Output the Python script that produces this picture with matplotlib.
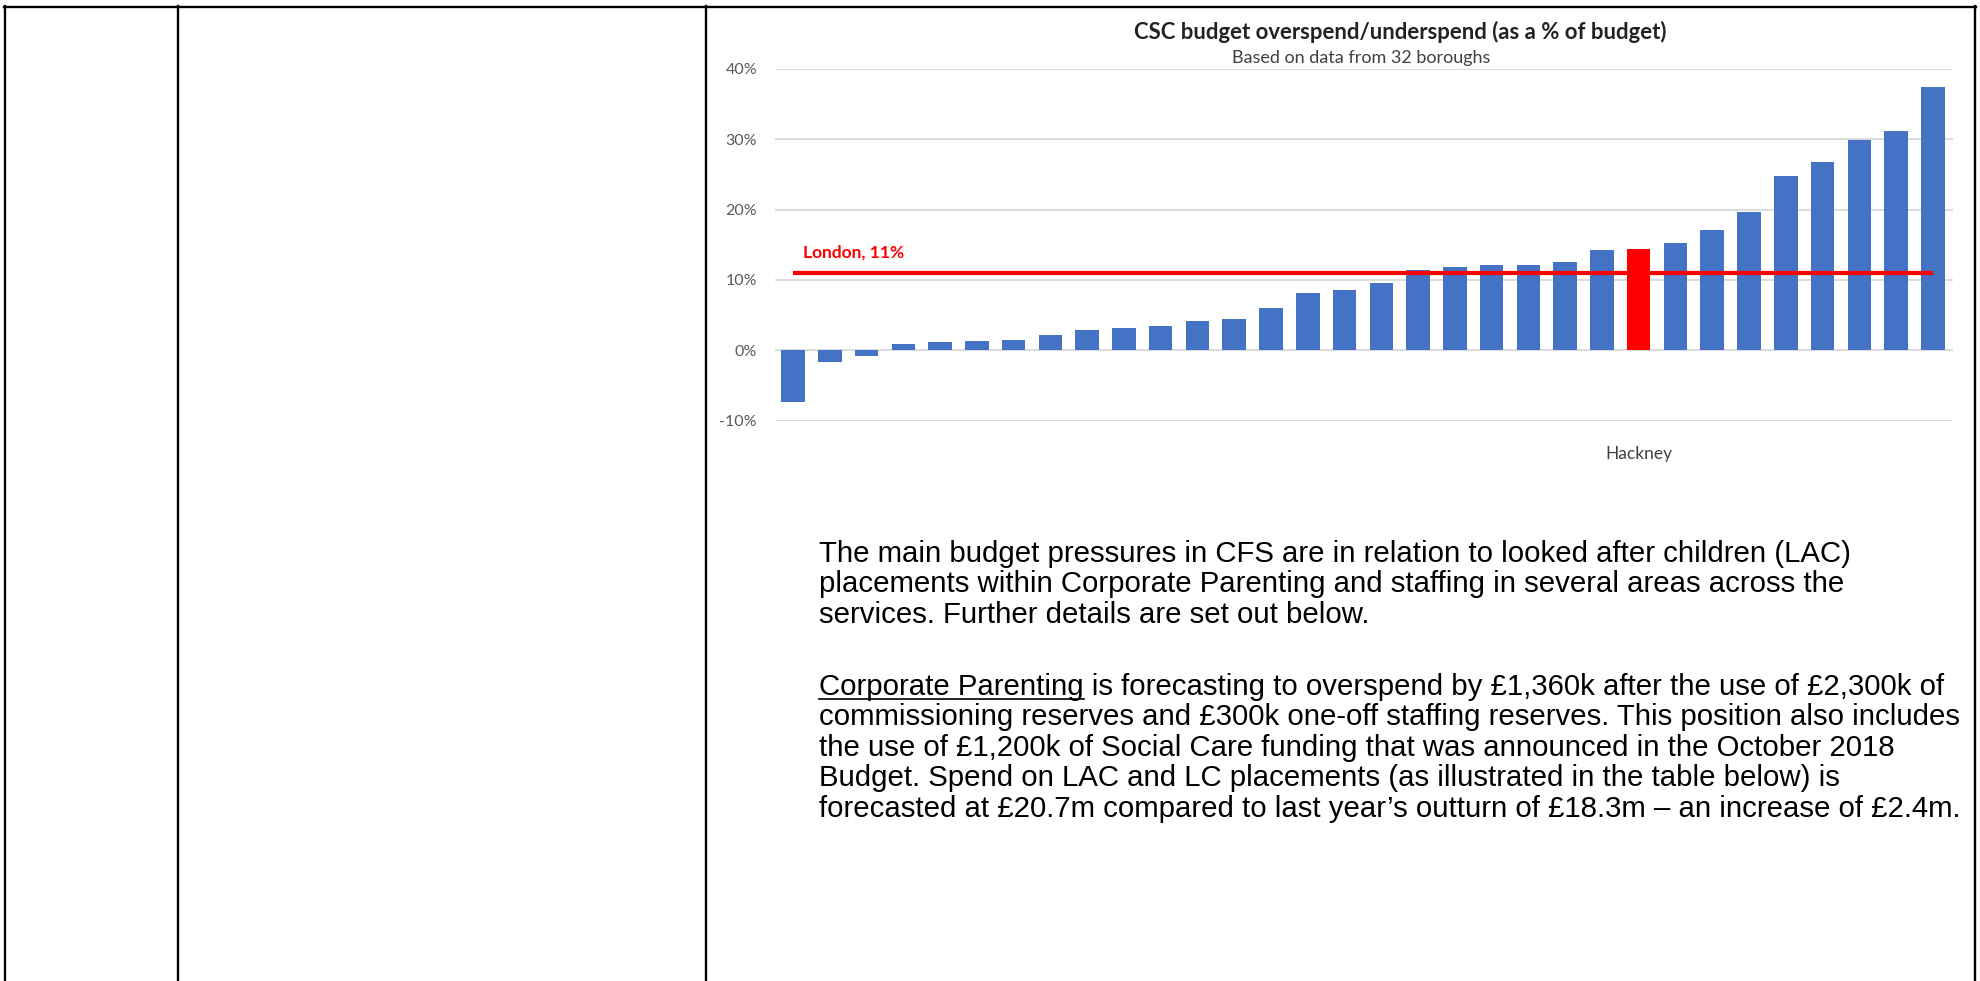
"""
CSC budget overspend/underspend chart, embedded in a report page.
"""

import matplotlib
matplotlib.use("Agg")
import matplotlib.pyplot as plt
from matplotlib.lines import Line2D

# borough overspend as % of budget, sorted ascending
pct = [
    -7.4, -1.7, -0.8, 0.95, 1.2, 1.25, 1.45, 2.2, 2.9, 3.1, 3.45,
    4.2, 4.45, 6.0, 8.1, 8.5, 9.55, 11.4, 11.8, 12.05, 12.15, 12.6,
    14.2, 14.4, 15.2, 17.05, 19.7, 24.8, 26.8, 29.95, 31.25, 37.4,
]
hackney_rank = 23
bar_labels = [""] * len(pct)
bar_labels[hackney_rank] = "Hackney"
london_avg = 11

y_ticks = [-10, 0, 10, 20, 30, 40]
y_tick_labels = ["-10%", "0%", "10%", "20%", "30%", "40%"]

title = "CSC budget overspend/underspend (as a % of budget)"
subtitle = "Based on data from 32 boroughs"

para1 = [
    "The main budget pressures in CFS are in relation to looked after children (LAC)",
    "placements within Corporate Parenting and staffing in several areas across the",
    "services. Further details are set out below.",
]
para2 = [
    "Corporate Parenting is forecasting to overspend by £1,360k after the use of £2,300k of",
    "commissioning reserves and £300k one-off staffing reserves. This position also includes",
    "the use of £1,200k of Social Care funding that was announced in the October 2018",
    "Budget. Spend on LAC and LC placements (as illustrated in the table below) is",
    "forecasted at £20.7m compared to last year\u2019s outturn of £18.3m \u2013 an increase of £2.4m.",
]
underlined = "Corporate Parenting"

BLUE = "#4472C4"
RED = "#FF0000"
CHART_FONT = ["Lato", "DejaVu Sans"]
BODY_FONT = ["Liberation Sans", "DejaVu Sans"]
BODY_SIZE = 21.2

W, H = 1981, 981
fig = plt.figure(figsize=(W / 100, H / 100), dpi=100)


def fx(px):
    return px / W


def fy(py):
    return 1 - py / H


# page table borders
for x in [5, 178, 706, 1975]:
    fig.add_artist(Line2D([fx(x), fx(x)], [0, fy(6)], transform=fig.transFigure,
                          color="black", lw=1.7))
fig.add_artist(Line2D([fx(4), fx(1976)], [fy(7), fy(7)], transform=fig.transFigure,
                      color="black", lw=1.7))

# chart
ax = fig.add_axes([fx(775), fy(420.5), fx(1952.7) - fx(775), fy(69) - fy(420.5)])
x = range(len(pct))
colors = [RED if i == hackney_rank else BLUE for i in x]
ax.bar(x, pct, width=0.64, color=colors, zorder=2)

ax.hlines(london_avg, 0, len(pct) - 1, color=RED, lw=3, zorder=3)
ax.text(0.27, 13.95, f"London, {london_avg}%", color=RED, fontweight="bold",
        fontsize=12.5, family=CHART_FONT, va="center", ha="left")

ax.set_xlim(-0.49, 31.54)
ax.set_ylim(-10, 40)
ax.set_yticks(y_ticks, y_tick_labels)
ax.set_xticks(list(x), bar_labels)
ax.yaxis.grid(True, color="#D9D9D9", lw=1.3)
ax.set_axisbelow(True)
for s in ax.spines.values():
    s.set_visible(False)
ax.tick_params(axis="y", length=0, pad=13, labelsize=11.5, labelcolor="#595959")
ax.tick_params(axis="x", length=0, pad=18, labelsize=12.5, labelcolor="#404040")
for lab in ax.get_xticklabels() + ax.get_yticklabels():
    lab.set_family(CHART_FONT)

fig.text(fx(1400), fy(31.7), title, ha="center", va="center", fontsize=15.9,
         fontweight="bold", color="#222222", family=CHART_FONT)
fig.text(fx(1361), fy(57.6), subtitle, ha="center", va="center", fontsize=13,
         color="#404040", family=CHART_FONT)

# report text
LINE = 30.4
for i, line in enumerate(para1):
    fig.text(fx(819), fy(562 + i * LINE), line, ha="left", va="baseline",
             fontsize=BODY_SIZE, family=BODY_FONT, color="black")
for i, line in enumerate(para2):
    fig.text(fx(819), fy(695 + i * LINE), line, ha="left", va="baseline",
             fontsize=BODY_SIZE, family=BODY_FONT, color="black")

renderer = fig.canvas.get_renderer()
probe = fig.text(fx(819), fy(695), underlined, ha="left", va="baseline",
                 fontsize=BODY_SIZE, family=BODY_FONT)
ul_width = probe.get_window_extent(renderer).width
probe.remove()
fig.add_artist(Line2D([fx(819), fx(819 + ul_width)], [fy(698.5), fy(698.5)],
                      transform=fig.transFigure, color="black", lw=1.2))

fig.savefig("out.png", dpi=100)
